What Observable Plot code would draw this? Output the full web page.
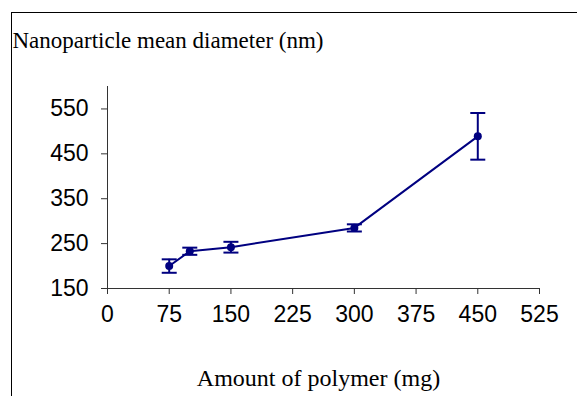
<!DOCTYPE html>
<html>
<head>
<meta charset="utf-8">
<script src="https://cdn.jsdelivr.net/npm/d3@7"></script>
<script src="https://cdn.jsdelivr.net/npm/@observablehq/plot@0.6"></script>
<style>
  html, body { margin: 0; padding: 0; background: #fff; overflow: hidden; }
  #wrap { position: relative; width: 577px; height: 396px; }
  #frame { position: absolute; left: 11px; top: 12px; width: 620px; height: 420px; border: 1.5px solid #000; box-sizing: border-box; pointer-events: none; }
</style>
</head>
<body>
<div id="wrap"><div id="frame"></div></div>
<script>
const polymer = [75, 100, 150, 300, 450];
const diameter = [200, 233, 242, 285, 489];
const errorSize = [15, 8, 12, 8, 52];
const xTicks = [0, 75, 150, 225, 300, 375, 450, 525];
const yTicks = [150, 250, 350, 450, 550];
const title = "Nanoparticle mean diameter (nm)";
const xLabel = "Amount of polymer (mg)";

const data = polymer.map((x, i) => ({x, y: diameter[i], lo: diameter[i] - errorSize[i], hi: diameter[i] + errorSize[i]}));

const navy = "#000080";
const cap = {
  draw(context, size) {
    const w = 7.5;
    context.moveTo(-w, 0);
    context.lineTo(w, 0);
  }
};

const chart = Plot.plot({
  width: 577,
  height: 396,
  marginLeft: 107,
  marginRight: 38,
  marginTop: 86,
  marginBottom: 108,
  style: { background: "transparent", fontFamily: "'Liberation Sans', Arial, sans-serif", color: "#000" },
  x: { domain: [0, 525] },
  y: { domain: [150, 600] },
  marks: [
    Plot.ruleX([0], { stroke: "#333", strokeWidth: 1 }),
    Plot.ruleY([150], { stroke: "#333", strokeWidth: 1 }),
    Plot.axisX({ ticks: xTicks, tickSize: 6, tickPadding: 11, label: null, fontSize: 23, stroke: "#333", tickFormat: d => String(d), color: "#000" }),
    Plot.axisY({ ticks: yTicks, tickSize: 6, tickPadding: 13, label: null, fontSize: 23, stroke: "#333", tickFormat: d => String(d) }),
    Plot.ruleX(data, { x: "x", y1: "lo", y2: "hi", stroke: navy, strokeWidth: 2 }),
    Plot.dot(data, { x: "x", y: "lo", symbol: cap, r: 5, stroke: navy, strokeWidth: 2, fill: "none" }),
    Plot.dot(data, { x: "x", y: "hi", symbol: cap, r: 5, stroke: navy, strokeWidth: 2, fill: "none" }),
    Plot.line(data, { x: "x", y: "y", stroke: navy, strokeWidth: 2 }),
    Plot.dot(data, { x: "x", y: "y", r: 4, fill: navy, stroke: "none" }),
    Plot.text([title], { frameAnchor: "top-left", dx: -95, dy: -55, text: d => d, textAnchor: "start", fontSize: 23, fontFamily: "'Liberation Serif', 'Times New Roman', serif", fill: "#000" }),
    Plot.text([xLabel], { frameAnchor: "bottom", dx: -5, dy: 97, text: d => d, fontSize: 24, fontFamily: "'Liberation Serif', 'Times New Roman', serif", fill: "#000" })
  ]
});
document.getElementById("wrap").prepend(chart);
</script>
</body>
</html>
